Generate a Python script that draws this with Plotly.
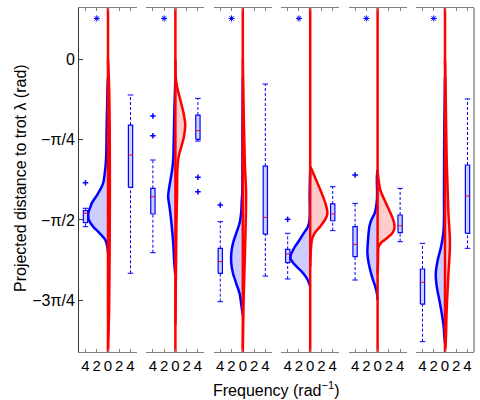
import math
import plotly.graph_objects as go

PI = math.pi

# ---------------- data ----------------
freq_ticks = [-4, -2, 0, 2, 4]
freq_ticktext = ["4", "2", "0", "2", "4"]
phase_ticks = [0, -PI / 4, -PI / 2, -3 * PI / 4]
phase_ticktext = ["0", "\u2212\u03c0/4", "\u2212\u03c0/2", "\u22123\u03c0/4"]

# blue density (drawn to the left): y positions (rad) and widths (frequency units)
blue_y = [
    [-0.17, -0.27, -0.66, -0.985, -1.115, -1.213, -1.311, -1.409, -1.441, -1.49, -1.53, -1.572, -1.637, -1.702, -1.767, -1.833, -1.898],
    [-0.17, -0.496, -0.822, -0.985, -1.083, -1.181, -1.278, -1.344, -1.441, -1.572, -1.702, -1.833, -1.963, -2.061, -2.11],
    [-0.17, -0.66, -1.311, -1.376, -1.507, -1.604, -1.702, -1.8, -1.898, -1.996, -2.093, -2.191, -2.289, -2.387, -2.468, -2.5],
    [-1.083, -1.311, -1.572, -1.637, -1.702, -1.767, -1.833, -1.882, -1.914, -1.947, -1.979, -2.028, -2.077, -2.126, -2.175, -2.224],
    [-1.083, -1.148, -1.376, -1.507, -1.572, -1.637, -1.767, -1.898, -1.996, -2.126, -2.224, -2.289, -2.354],
    [-0.17, -0.659, -1.311, -1.572, -1.702, -1.833, -1.963, -2.093, -2.224, -2.354, -2.485, -2.615, -2.713, -2.778],
]
blue_w = [
    [0.0, 0.08, 0.23, 0.35, 0.58, 0.88, 1.75, 2.9, 3.1, 3.45, 3.5, 3.4, 2.63, 1.46, 0.47, 0.12, 0.0],
    [0.0, 0.18, 0.3, 0.4, 0.58, 0.88, 1.17, 1.29, 1.05, 0.76, 0.53, 0.35, 0.23, 0.1, 0.0],
    [0.0, 0.06, 0.1, 0.18, 0.3, 0.58, 1.17, 1.75, 2.05, 2.05, 1.75, 1.17, 0.58, 0.3, 0.1, 0.0],
    [0.0, 0.1, 0.12, 0.4, 1.17, 1.9, 2.7, 3.2, 3.45, 3.5, 3.2, 2.4, 1.5, 0.8, 0.3, 0.0],
    [0.0, 0.12, 0.12, 0.53, 1.11, 1.46, 1.7, 1.81, 1.58, 1.0, 0.41, 0.12, 0.0],
    [0.0, 0.12, 0.18, 0.18, 0.3, 0.7, 1.29, 1.64, 1.46, 1.0, 0.58, 0.23, 0.12, 0.0],
]

# red density (drawn to the right)
red_y = [
    [0.0, -0.27, -0.66, -1.31, -1.96, -2.45, -2.84],
    [0.0, -0.17, -0.268, -0.398, -0.528, -0.643, -0.757, -0.855, -0.952, -1.083, -1.311, -1.637, -1.963, -2.289, -2.6],
    [0.0, -0.33, -0.985, -1.31, -1.64, -1.96, -2.29, -2.62, -2.85],
    [-1.05, -1.083, -1.181, -1.311, -1.408, -1.474, -1.507, -1.54, -1.572, -1.637, -1.702, -1.767, -1.865, -2.03],
    [-1.083, -1.181, -1.278, -1.376, -1.474, -1.572, -1.62, -1.653, -1.702, -1.751, -1.793, -1.833, -1.963, -2.1],
    [0.0, -0.333, -0.985, -1.474, -1.8, -2.126, -2.452, -2.778, -2.85],
]
red_w = [
    [0.0, 0.2, 0.3, 0.33, 0.28, 0.2, 0.0],
    [0.0, 0.05, 0.3, 0.88, 1.46, 1.75, 1.52, 1.05, 0.58, 0.35, 0.3, 0.18, 0.12, 0.05, 0.0],
    [0.0, 0.1, 0.35, 0.58, 0.5, 0.35, 0.18, 0.06, 0.0],
    [0.0, 0.3, 1.05, 2.05, 2.7, 3.0, 3.05, 2.9, 2.6, 1.75, 0.76, 0.3, 0.12, 0.0],
    [0.0, 0.18, 0.47, 1.23, 2.05, 2.8, 2.98, 3.0, 2.6, 1.64, 0.64, 0.18, 0.08, 0.0],
    [0.0, 0.12, 0.3, 0.58, 0.88, 0.58, 0.3, 0.12, 0.0],
]

# box statistics: [lower whisker, q1, median, q3, upper whisker]
left_box = [
    [-1.637, -1.598, -1.506, -1.481, -1.457],
    [-1.892, -1.513, -1.344, -1.262, -0.985],
    [-2.371, -2.093, -1.979, -1.849, -1.588],
    [-2.149, -1.989, -1.904, -1.859, -1.702],
    [-2.159, -1.931, -1.810, -1.637, -1.409],
    [-2.762, -2.394, -2.181, -2.051, -1.800],
]
right_box = [
    [-2.093, -1.252, -0.936, -0.643, -0.349],
    [-0.800, -0.783, -0.698, -0.545, -0.382],
    [-2.120, -1.709, -1.546, -1.044, -0.242],
    [-1.676, -1.579, -1.513, -1.415, -1.246],
    [-1.784, -1.696, -1.628, -1.523, -1.262],
    [-1.849, -1.702, -1.337, -1.034, -0.388],
]
left_outliers = [[-1.207], [-0.555, -0.747], [-1.425], [-1.565], [-1.132], []]
right_outliers = [[], [-1.154, -1.295], [], [], [], []]
star_x = -2
star_y = 0.40

box_pos = 4
box_half = 0.38

# ---------------- figure ----------------
BLUE = "#0000ff"
RED = "#ff0000"
fig = go.Figure()

W, H = 480, 400
centers = [108 + 67.4 * k for k in range(6)]
half_px = 29
xr = 5.15
y_range = [-2.863, 0.502]


def box_traces(fig, stats, outl, xpos, xa):
    lo, q1, med, q3, hi = stats
    fig.add_trace(go.Scatter(x=[xpos, xpos, None, xpos, xpos], y=[lo, q1, None, q3, hi],
                             mode="lines", line=dict(color=BLUE, width=1, dash="3px,2px"),
                             xaxis=xa, yaxis="y", hoverinfo="skip"))
    fig.add_trace(go.Scatter(x=[xpos, xpos], y=[lo, hi], mode="markers",
                             marker=dict(symbol="line-ew", size=4, color=BLUE, line=dict(color=BLUE, width=1)),
                             xaxis=xa, yaxis="y", hoverinfo="skip"))
    fig.add_trace(go.Scatter(x=[xpos - box_half, xpos + box_half, xpos + box_half, xpos - box_half, xpos - box_half],
                             y=[q1, q1, q3, q3, q1], mode="lines", fill="toself",
                             fillcolor="rgba(0,0,255,0.18)", line=dict(color=BLUE, width=1.2),
                             xaxis=xa, yaxis="y", hoverinfo="skip"))
    fig.add_trace(go.Scatter(x=[xpos - box_half, xpos + box_half], y=[med, med], mode="lines",
                             line=dict(color=RED, width=1), xaxis=xa, yaxis="y", hoverinfo="skip"))
    if outl:
        fig.add_trace(go.Scatter(x=[xpos] * len(outl), y=outl, mode="markers",
                                 marker=dict(symbol="cross-thin", size=4, color=BLUE,
                                             line=dict(color=BLUE, width=1.5)),
                                 xaxis=xa, yaxis="y", hoverinfo="skip"))


for k in range(6):
    xa = "x" if k == 0 else f"x{k + 1}"
    # blue density
    fig.add_trace(go.Scatter(x=[-w for w in blue_w[k]], y=blue_y[k], mode="lines", fill="toself",
                             fillcolor="rgba(0,0,255,0.2)",
                             line=dict(color=BLUE, width=2.5, shape="spline", smoothing=1.0),
                             xaxis=xa, yaxis="y", hoverinfo="skip"))
    # red density
    fig.add_trace(go.Scatter(x=red_w[k], y=red_y[k], mode="lines", fill="toself",
                             fillcolor="rgba(255,0,0,0.2)",
                             line=dict(color=RED, width=2.5, shape="spline", smoothing=1.0),
                             xaxis=xa, yaxis="y", hoverinfo="skip"))
    # red centre line
    fig.add_trace(go.Scatter(x=[0, 0], y=y_range, mode="lines", line=dict(color=RED, width=2.5),
                             xaxis=xa, yaxis="y", hoverinfo="skip"))
    box_traces(fig, left_box[k], left_outliers[k], -box_pos, xa)
    box_traces(fig, right_box[k], right_outliers[k], box_pos, xa)
    fig.add_trace(go.Scatter(x=[star_x], y=[star_y], mode="markers",
                             marker=dict(symbol="asterisk-open", size=5, color=BLUE,
                                         line=dict(color=BLUE, width=1)),
                             xaxis=xa, yaxis="y", hoverinfo="skip"))

    c = centers[k]
    ax = dict(domain=[(c - half_px) / W, (c + half_px) / W], range=[-xr, xr], anchor="y",
              showline=True, linecolor="#808080", linewidth=1, mirror="ticks",
              ticks="inside", ticklen=3, tickcolor="#808080", tickwidth=1,
              tickvals=freq_ticks, ticktext=freq_ticktext,
              tickfont=dict(size=15, color="black"), showgrid=False, zeroline=False, fixedrange=True)
    fig.layout["xaxis" if k == 0 else f"xaxis{k + 1}"] = ax

fig.update_layout(
    width=W, height=H, margin=dict(l=0, r=0, t=0, b=0),
    paper_bgcolor="white", plot_bgcolor="white", showlegend=False,
    font=dict(family="Liberation Sans, Arial, sans-serif", color="black"),
    yaxis=dict(domain=[1 - 352 / H, 1 - 8 / H], range=y_range, anchor="x",
               showline=True, linecolor="#333333", linewidth=1, ticks="inside", ticklen=4,
               tickcolor="#333333", tickvals=phase_ticks, ticktext=phase_ticktext,
               tickfont=dict(size=16, color="black"), showgrid=False, zeroline=False, fixedrange=True),
    shapes=[dict(type="line", xref="paper", yref="paper", x0=(centers[5] + half_px) / W,
                 x1=(centers[5] + half_px) / W, y0=1 - 352 / H, y1=1 - 8 / H,
                 line=dict(color="#555555", width=1))],
    annotations=[
        dict(text="Frequency (rad<sup>\u22121</sup>)", xref="paper", yref="paper", x=276 / W, y=1 - 389 / H,
             showarrow=False, font=dict(size=16), xanchor="center", yanchor="middle"),
        dict(text="Projected distance to trot \u03bb (rad)", xref="paper", yref="paper", x=20 / W,
             y=1 - 178 / H, showarrow=False, textangle=-90, font=dict(size=16),
             xanchor="center", yanchor="middle"),
    ],
)

fig.write_html("out.html")
